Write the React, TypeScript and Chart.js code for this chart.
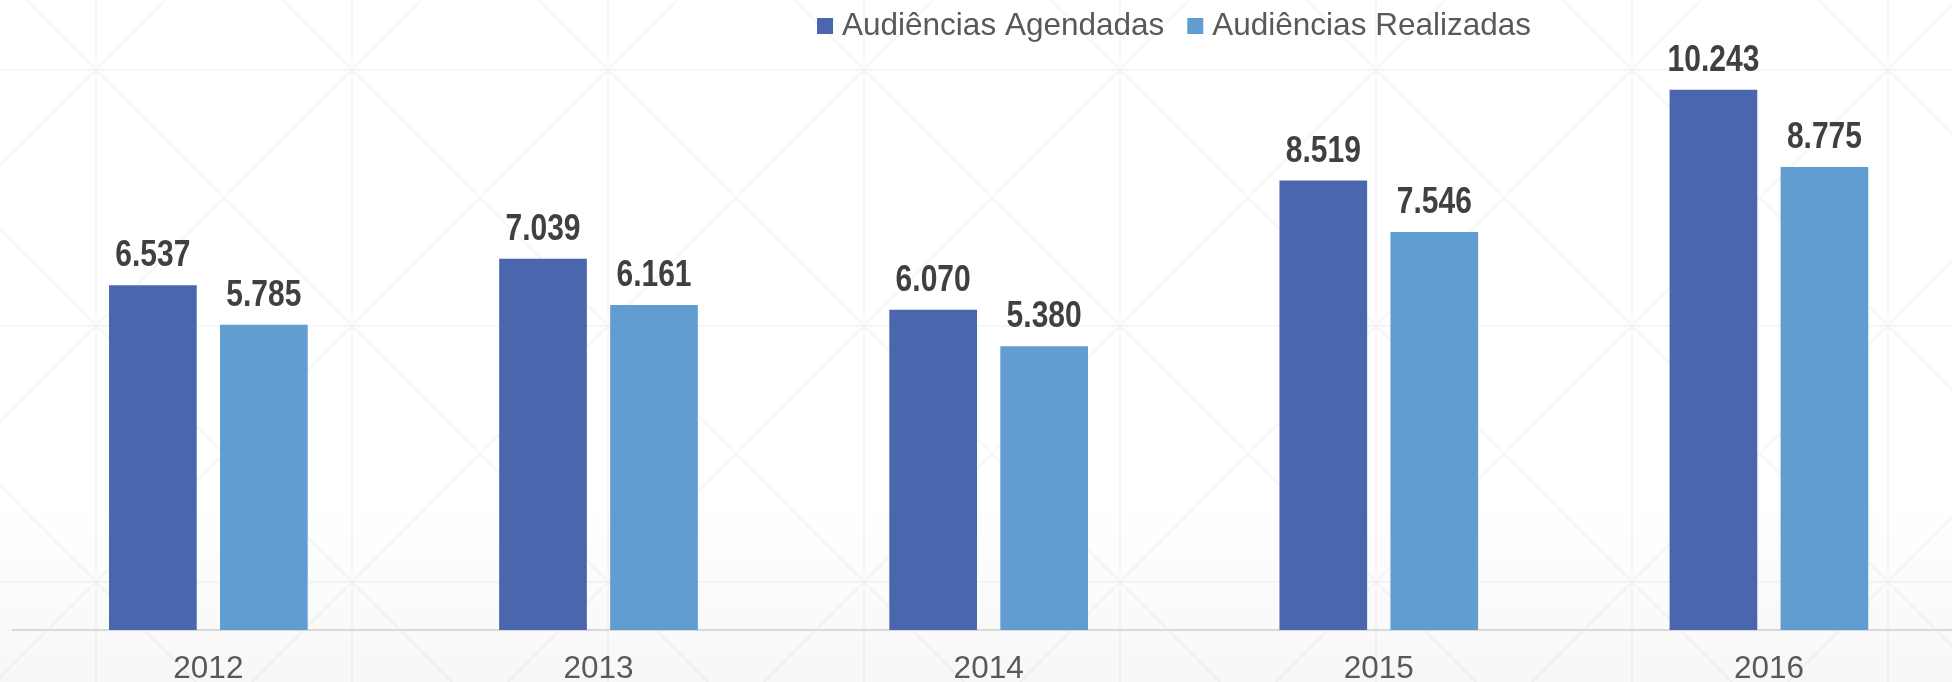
import React, { useEffect, useRef } from 'react';
import { Chart, registerables } from 'chart.js';

Chart.register(...registerables);

const years = ['2012', '2013', '2014', '2015', '2016'];
const agendadas = [6537, 7039, 6070, 8519, 10243];
const realizadas = [5785, 6161, 5380, 7546, 8775];
const seriesLabels = ['Audiências Agendadas', 'Audiências Realizadas'];
const seriesColors = ['#4A66AC', '#629DD1'];
const yMax = 11000;

const FONT = '"Liberation Sans", Arial, Helvetica, sans-serif';

function fmt(v: number): string {
  return String(v).replace(/\B(?=(\d{3})+(?!\d))/g, '.');
}

const bgPlugin = {
  id: 'bgPattern',
  beforeDraw(chart: any) {
    const { ctx, width, height } = chart;
    ctx.save();
    ctx.fillStyle = '#ffffff';
    ctx.fillRect(0, 0, width, height);
    const g = ctx.createLinearGradient(0, 500, 0, height);
    g.addColorStop(0, 'rgba(0,0,0,0)');
    g.addColorStop(1, 'rgba(0,0,0,0.03)');
    ctx.fillStyle = g;
    ctx.fillRect(0, 500, width, height - 500);
    ctx.strokeStyle = 'rgba(0,0,0,0.045)';
    ctx.lineWidth = 1.5;
    ctx.beginPath();
    for (let x = 96 - 256; x < width + 256; x += 256) {
      ctx.moveTo(x, 0);
      ctx.lineTo(x, height);
    }
    for (let y = 70 - 256; y < height + 256; y += 256) {
      ctx.moveTo(0, y);
      ctx.lineTo(width, y);
    }
    for (let c = 26 - 256 * 4; c < width + 256; c += 256) {
      ctx.moveTo(c, 0);
      ctx.lineTo(c + height, height);
    }
    for (let c = 166 - 256; c < width + height + 256; c += 256) {
      ctx.moveTo(c, 0);
      ctx.lineTo(c - height, height);
    }
    ctx.stroke();
    ctx.restore();
  },
};

const valueLabelPlugin = {
  id: 'valueLabels',
  afterDatasetsDraw(chart: any) {
    const { ctx } = chart;
    ctx.save();
    ctx.fillStyle = '#404040';
    ctx.font = `bold 37.5px ${FONT}`;
    ctx.textAlign = 'center';
    ctx.textBaseline = 'alphabetic';
    chart.data.datasets.forEach((ds: any, di: number) => {
      const meta = chart.getDatasetMeta(di);
      meta.data.forEach((el: any, i: number) => {
        ctx.save();
        ctx.translate(el.x, el.y - 19);
        ctx.scale(0.8, 1);
        ctx.fillText(fmt(ds.data[i]), 0, 0);
        ctx.restore();
      });
    });
    ctx.restore();
  },
};

const legendPlugin = {
  id: 'customLegend',
  afterDraw(chart: any) {
    const { ctx } = chart;
    const centerX = 1174;
    const box = 16;
    const gapBoxText = 9;
    const gapItems = 23;
    const baseline = 34.5;
    ctx.save();
    ctx.font = `31.5px ${FONT}`;
    ctx.textBaseline = 'alphabetic';
    ctx.textAlign = 'left';
    const items = chart.data.datasets.map((ds: any) => ({
      label: ds.label,
      color: ds.backgroundColor,
      w: ctx.measureText(ds.label).width,
    }));
    let total = 0;
    items.forEach((it: any, i: number) => {
      total += box + gapBoxText + it.w + (i < items.length - 1 ? gapItems : 0);
    });
    let x = centerX - total / 2;
    items.forEach((it: any) => {
      ctx.fillStyle = it.color;
      ctx.fillRect(x, baseline - box - 0.5, box, box);
      x += box + gapBoxText;
      ctx.fillStyle = '#595959';
      ctx.fillText(it.label, x, baseline);
      x += it.w + gapItems;
    });
    ctx.restore();
  },
};

export default function App() {
  const canvasRef = useRef<HTMLCanvasElement | null>(null);

  useEffect(() => {
    if (!canvasRef.current) return;
    Chart.defaults.font.family = FONT;
    const chart = new Chart(canvasRef.current, {
      type: 'bar',
      data: {
        labels: years,
        datasets: [
          {
            label: seriesLabels[0],
            data: agendadas,
            backgroundColor: seriesColors[0],
            categoryPercentage: 0.569,
            barPercentage: 0.79,
          },
          {
            label: seriesLabels[1],
            data: realizadas,
            backgroundColor: seriesColors[1],
            categoryPercentage: 0.569,
            barPercentage: 0.79,
          },
        ],
      },
      options: {
        animation: false,
        responsive: false,
        maintainAspectRatio: false,
        devicePixelRatio: 1,
        layout: { padding: { left: 13.3, right: 0, top: 49.75, bottom: 0 } },
        plugins: {
          legend: { display: false },
          tooltip: { enabled: false },
        },
        scales: {
          x: {
            grid: { display: false, drawTicks: false },
            border: { display: true, color: '#d9d9d9', width: 2 },
            ticks: {
              color: '#595959',
              font: { family: FONT, size: 31.5 },
              padding: 20,
            },
            afterFit: (s: any) => {
              s.height = 52;
            },
          },
          y: { display: false, min: 0, max: yMax },
        },
      },
      plugins: [bgPlugin, valueLabelPlugin, legendPlugin],
    } as any);
    return () => chart.destroy();
  }, []);

  return (
    <div
      style={{
        position: 'fixed',
        left: 0,
        top: 0,
        width: 1952,
        height: 682,
        overflow: 'hidden',
        background: '#ffffff',
      }}
    >
      <canvas
        ref={canvasRef}
        width={1964}
        height={682}
        style={{ display: 'block', width: 1964, height: 682 }}
      />
    </div>
  );
}
